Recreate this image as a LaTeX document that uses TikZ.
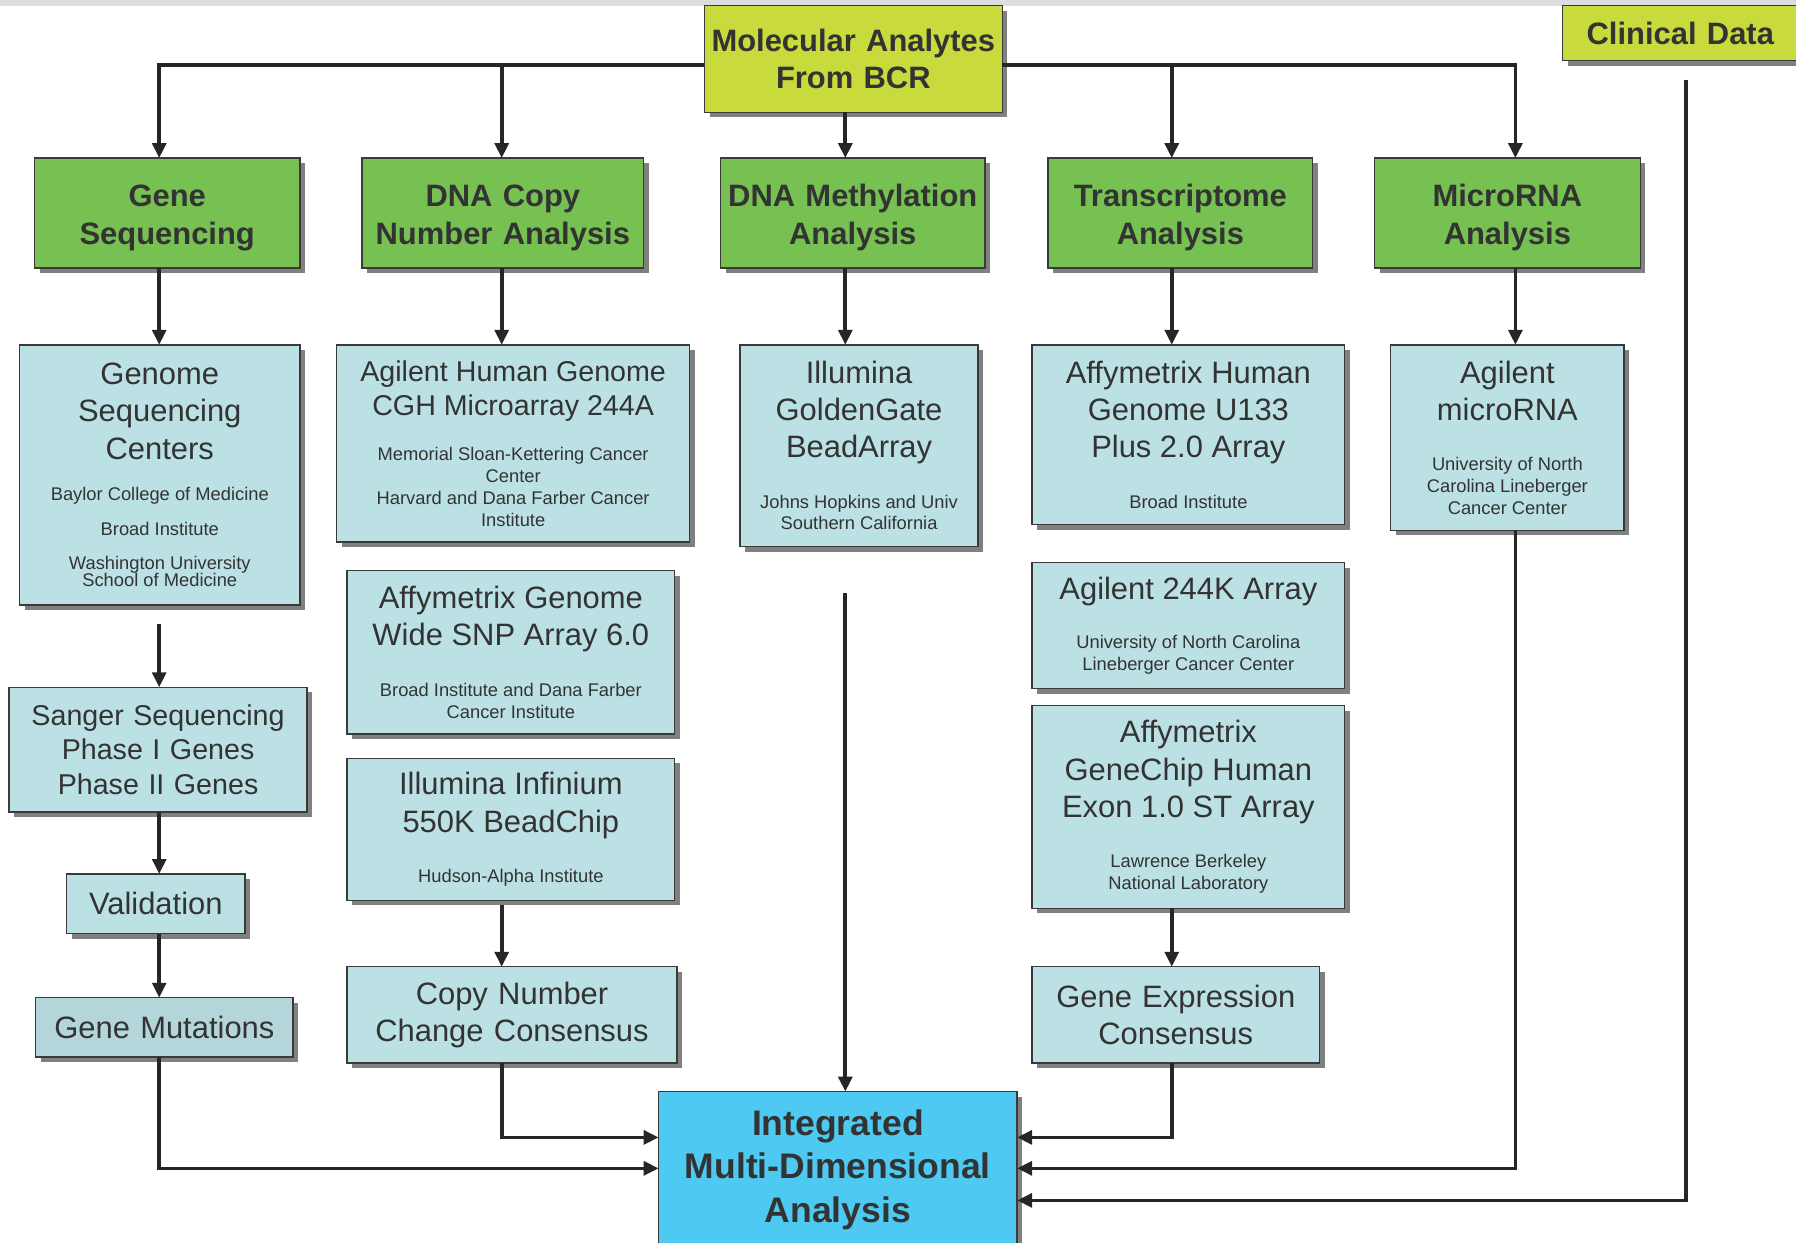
\documentclass[tikz,border=0pt]{standalone}
\usepackage{fontspec}
\setmainfont{Liberation Sans}
\usetikzlibrary{arrows.meta,shadows}
\setlength{\parindent}{0pt}

\definecolor{topbar}{HTML}{DCDDDF}
\definecolor{limegreen}{HTML}{C8DA3C}
\definecolor{leafgreen}{HTML}{76C152}
\definecolor{paleblue}{HTML}{BCE1E5}
\definecolor{mutblue}{HTML}{B4D6DA}
\definecolor{skyblue}{HTML}{4DC9F2}
\definecolor{shadowgrey}{HTML}{808080}
\definecolor{boxline}{HTML}{3A3A3A}
\definecolor{linegrey}{HTML}{262626}
\definecolor{textgrey}{HTML}{333333}

\newcommand{\bigtxt}{\fontsize{27}{32.5}\selectfont\spaceskip=.278em\xspaceskip=.278em\relax}
\newcommand{\midtxt}{\fontsize{25}{30}\selectfont\spaceskip=.278em\xspaceskip=.278em\relax}
\newcommand{\smalltxt}{\fontsize{16}{19}\selectfont\spaceskip=.278em\xspaceskip=.278em\relax}
\newcommand{\headtxt}{\fontsize{27}{33}\selectfont\bfseries}
\newcommand{\headlift}{\rule{0pt}{27.5pt}}

\tikzset{
  panel/.style={draw=boxline, line width=1.3pt, inner sep=0pt, outer sep=0pt,
    text width=#1, align=center, text=textgrey,
    drop shadow={shadow xshift=4.5pt, shadow yshift=-4.5pt, fill=shadowgrey, opacity=1}},
  bluebox/.style={panel=#1, fill=paleblue},
  greenbox/.style={panel=#1, fill=leafgreen, font=\headtxt},
  limebox/.style={panel=#1, fill=limegreen, font=\headtxt},
  arr/.style={draw=linegrey, line width=3.2pt, -{Triangle[length=13pt,width=12pt]}},
}

\begin{document}
\begin{tikzpicture}[x=1pt, y=-1pt]
  %%%%% START %%%%%
  \useasboundingbox (0,0) rectangle (1568,1085);
  \fill[topbar] (0,0) rectangle (1568,5);

  % sources
  \node[limebox=260pt, minimum height=93pt] (mol) at (745,51.5) {Molecular Analytes\\From BCR};
  \node[limebox=206pt, minimum height=48pt] (clinical) at (1467,29) {Clinical Data};

  % analysis types
  \node[greenbox=232pt, minimum height=96pt] (geneseq) at (146,186) {\headlift Gene\\Sequencing};
  \node[greenbox=246pt, minimum height=96pt] (dnacopy) at (439,186) {\headlift DNA Copy\\Number Analysis};
  \node[greenbox=231pt, minimum height=96pt] (methyl) at (744.5,186) {\headlift DNA Methylation\\Analysis};
  \node[greenbox=231pt, minimum height=96pt] (transcr) at (1030.5,186) {\headlift Transcriptome\\Analysis};
  \node[greenbox=232pt, minimum height=96pt] (mirna) at (1316,186) {\headlift MicroRNA\\Analysis};

  % platforms
  \node[bluebox=245pt, minimum height=227pt] (gsc) at (139.5,414.5) {\bigtxt Genome\\Sequencing\\Centers\par\vspace{17pt}\smalltxt Baylor College of Medicine\par\vspace{12pt}Broad Institute\par\vspace{14pt}\fontsize{16}{15}\selectfont Washington University\\School of Medicine\par};
  \node[bluebox=308pt, minimum height=172pt] (cgh) at (448,387) {\midtxt Agilent Human Genome\\CGH Microarray 244A\par\vspace{20.5pt}\smalltxt Memorial Sloan-Kettering Cancer\\Center\\Harvard and Dana Farber Cancer\\Institute\par};
  \node[bluebox=208pt, minimum height=176pt] (golden) at (750,389) {\bigtxt Illumina\\GoldenGate\\BeadArray\par\vspace{25pt}\smalltxt Johns Hopkins and Univ\\Southern California\par};
  \node[bluebox=273pt, minimum height=157pt] (u133) at (1037.5,379.5) {\bigtxt Affymetrix Human\\Genome U133\\Plus 2.0 Array\par\vspace{25pt}\smalltxt Broad Institute\par};
  \node[bluebox=204pt, minimum height=162pt] (agmirna) at (1316,382) {\bigtxt Agilent\\microRNA\par\vspace{25pt}\smalltxt University of North\\Carolina Lineberger\\Cancer Center\par};

  \node[bluebox=286pt, minimum height=143pt] (snp) at (446,569.5) {\bigtxt Affymetrix Genome\\Wide SNP Array 6.0\par\vspace{25pt}\smalltxt Broad Institute and Dana Farber\\Cancer Institute\par};
  \node[bluebox=286pt, minimum height=124pt] (infinium) at (446,724) {\bigtxt Illumina Infinium\\550K BeadChip\par\vspace{25pt}\smalltxt Hudson-Alpha Institute\par};
  \node[bluebox=273pt, minimum height=110pt] (ag244) at (1037.5,546) {\bigtxt Agilent 244K Array\par\vspace{24pt}\smalltxt University of North Carolina\\Lineberger Cancer Center\par};
  \node[bluebox=273pt, minimum height=177pt] (exon) at (1037.5,704.5) {\bigtxt Affymetrix\\GeneChip Human\\Exon 1.0 ST Array\par\vspace{25pt}\smalltxt Lawrence Berkeley\\National Laboratory\par};

  % gene sequencing chain
  \node[bluebox=260pt, minimum height=109pt, font=\midtxt] (sanger) at (138,654.5) {Sanger Sequencing\\Phase I Genes\\Phase II Genes};
  \node[bluebox=156pt, minimum height=52pt, font=\bigtxt] (valid) at (136,789) {Validation};
  \node[bluebox=225pt, minimum height=52pt, font=\bigtxt, fill=mutblue] (genemut) at (143.5,897) {Gene Mutations};

  % consensus
  \node[bluebox=288pt, minimum height=84pt, font=\bigtxt] (cnconsensus) at (447,886) {Copy Number\\Change Consensus};
  \node[bluebox=251pt, minimum height=84pt, font=\bigtxt] (geconsensus) at (1026.5,886) {Gene Expression\\Consensus};

  % target
  \node[panel=313pt, fill=skyblue, minimum height=136pt, font=\fontsize{31}{38}\selectfont\bfseries] (integ) at (731.5,1021) {Integrated\\Multi-Dimensional\\Analysis};

  % column axes and feed rows
  \coordinate (c1) at (139,0);
  \coordinate (c2) at (438,0);
  \coordinate (c3) at (738,0);
  \coordinate (c4) at (1023,0);
  \coordinate (c5) at (1323,0);
  \coordinate (c6) at (1472,0);
  \coordinate (bus) at (0,57);
  \coordinate (r1) at (0,993);
  \coordinate (r2) at (0,1020);
  \coordinate (r3) at (0,1048);

  \draw[arr] (mol.west |- bus) -| (geneseq.north -| c1);
  \draw[arr] (mol.west |- bus) -| (dnacopy.north -| c2);
  \draw[arr] (mol.south -| c3) -- (methyl.north -| c3);
  \draw[arr] (mol.east |- bus) -| (transcr.north -| c4);
  \draw[arr] (mol.east |- bus) -| (mirna.north -| c5);

  \draw[arr] (geneseq.south -| c1) -- (gsc.north -| c1);
  \draw[arr] (dnacopy.south -| c2) -- (cgh.north -| c2);
  \draw[arr] (methyl.south -| c3) -- (golden.north -| c3);
  \draw[arr] (transcr.south -| c4) -- (u133.north -| c4);
  \draw[arr] (mirna.south -| c5) -- (agmirna.north -| c5);

  \draw[arr, shorten <=17pt] (gsc.south -| c1) -- (sanger.north -| c1);
  \draw[arr] (sanger.south -| c1) -- (valid.north -| c1);
  \draw[arr] (valid.south -| c1) -- (genemut.north -| c1);
  \draw[arr] (genemut.south -| c1) |- (integ.west |- r2);

  \draw[arr, shorten <=4pt] (infinium.south -| c2) -- (cnconsensus.north -| c2);
  \draw[arr] (cnconsensus.south -| c2) |- (integ.west |- r1);

  \draw[arr, shorten <=41pt] (golden.south -| c3) -- (integ.north -| c3);

  \draw[arr] (exon.south -| c4) -- (geconsensus.north -| c4);
  \draw[arr] (geconsensus.south -| c4) |- (integ.east |- r1);
  \draw[arr] (agmirna.south -| c5) |- (integ.east |- r2);
  \draw[arr, shorten <=17pt] (clinical.south -| c6) |- (integ.east |- r3);
  %%%%% END %%%%%
\end{tikzpicture}
\end{document}
